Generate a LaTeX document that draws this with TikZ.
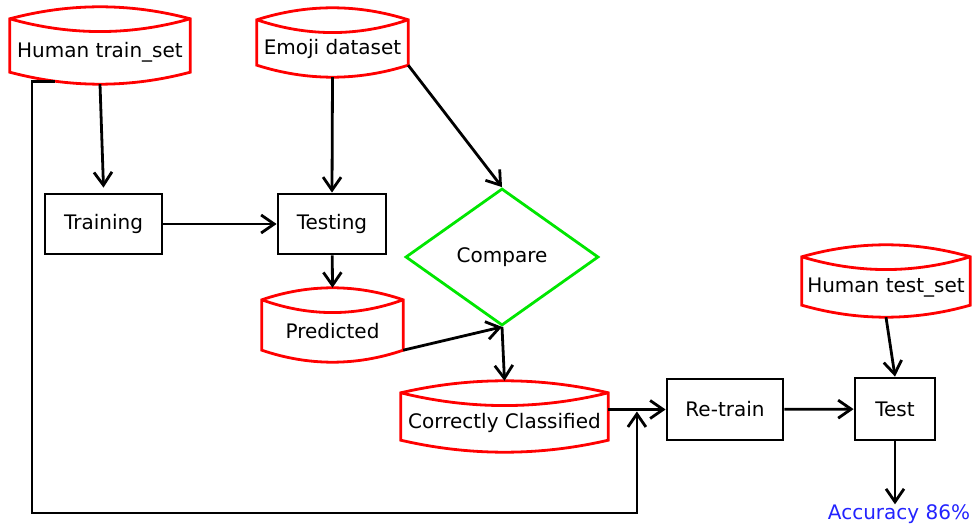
\documentclass[tikz,border=0pt]{standalone}
\usepackage{fontspec}
\setmainfont{DejaVu Sans}
\usetikzlibrary{positioning,arrows.meta,shapes.geometric,calc}

\definecolor{storered}{RGB}{255,0,0}
\definecolor{cmpgreen}{RGB}{0,230,0}
\definecolor{accblue}{RGB}{35,35,255}

\tikzset{
  procbox/.style={draw, line width=2.8pt, inner sep=0pt},
  store/.style={inner sep=0pt},
  drumline/.style={draw=storered, line width=2.8pt},
  flow/.style={->, line width=2.8pt}
}

% red data store outline round a named node
\newcommand{\drumshape}[1]{%
  \coordinate (#1-l) at ([yshift=13pt]#1.north west);
  \coordinate (#1-r) at ([yshift=13pt]#1.north east);
  \draw[drumline] (#1-l) .. controls ($(#1-l)!1/3!(#1-r)+(0pt,16pt)$) and ($(#1-l)!2/3!(#1-r)+(0pt,16pt)$) .. (#1-r) coordinate[pos=0.5] (#1-top)
    -- (#1.south east) .. controls ($(#1.south east)!1/3!(#1.south west)+(0pt,-16pt)$) and ($(#1.south east)!2/3!(#1.south west)+(0pt,-16pt)$) .. (#1.south west) coordinate[pos=0.5] (#1-bot) coordinate[pos=0.75] (#1-foot)
    -- cycle;
  \draw[drumline] (#1-l) .. controls ($(#1-l)!1/3!(#1-r)+(0pt,-17pt)$) and ($(#1-l)!2/3!(#1-r)+(0pt,-17pt)$) .. (#1-r);
}

\begin{document}
\begin{tikzpicture}[x=1pt, y=1pt, >={Straight Barb[length=13pt,width=18pt]}, font=\fontsize{20}{24}\selectfont]
    \useasboundingbox (0,0) rectangle (972,528);

    % data stores
    \node[store, minimum width=180pt, minimum height=40pt] (train) at (100,476) {Human train\_set};
    \node[store, minimum width=151pt, minimum height=32pt] (emoji) at (332.5,479) {Emoji dataset};
    \node[store, minimum width=141pt, minimum height=37pt] (predicted) at (332.5,196.5) {Predicted};
    \node[store, minimum width=207pt, minimum height=34pt] (correct) at (504.5,105) {Correctly Classified};
    \node[store, minimum width=168pt, minimum height=35pt] (testset) at (886,240.5) {Human test\_set};
    \foreach \s in {train,emoji,predicted,correct,testset} {\drumshape{\s}}

    % steps
    \node[procbox, minimum width=117pt, minimum height=60pt] (training) at (103.5,304) {Training};
    \node[procbox, minimum width=108pt, minimum height=60pt] (testing) at (332,304) {Testing};
    \node[diamond, draw=cmpgreen, line width=2.8pt, inner sep=0pt, minimum width=193pt, minimum height=137pt] (compare) at (502,271) {Compare};
    \node[procbox, minimum width=116pt, minimum height=61pt] (retrain) at (725,118.5) {Re-train};
    \node[procbox, minimum width=80pt, minimum height=62pt] (test) at (895,119) {Test};
    \node[text=accblue, inner sep=0pt] (acc) at (899,14) {Accuracy 86\%};

    \coordinate (corner) at (32,15);
    \coordinate (join) at ($(correct.east |- retrain.west)!0.5!(retrain.west)+(0pt,-2pt)$);

    \draw[flow] (train-bot) -- ([yshift=5pt]training.north);
    \draw[flow] (emoji-bot) -- (testing.north);
    \draw[flow] (emoji.south east) -- (compare.north);
    \draw[flow] (training) -- (testing);
    \draw[flow] (testing) -- (predicted-top);
    \draw[flow] (predicted.south east) -- (compare.south);
    \draw[flow] (compare.south) -- (correct-top);
    \draw[flow] (correct.east |- retrain.west) -- (retrain.west);
    \draw[flow] (train-foot) -| (corner) -| (join);
    \draw[flow] (retrain) -- (test);
    \draw[flow] (testset-bot) -- (test.north);
    \draw[flow] (test.south) -- (test.south |- acc.north);
  \end{tikzpicture}
\end{document}
